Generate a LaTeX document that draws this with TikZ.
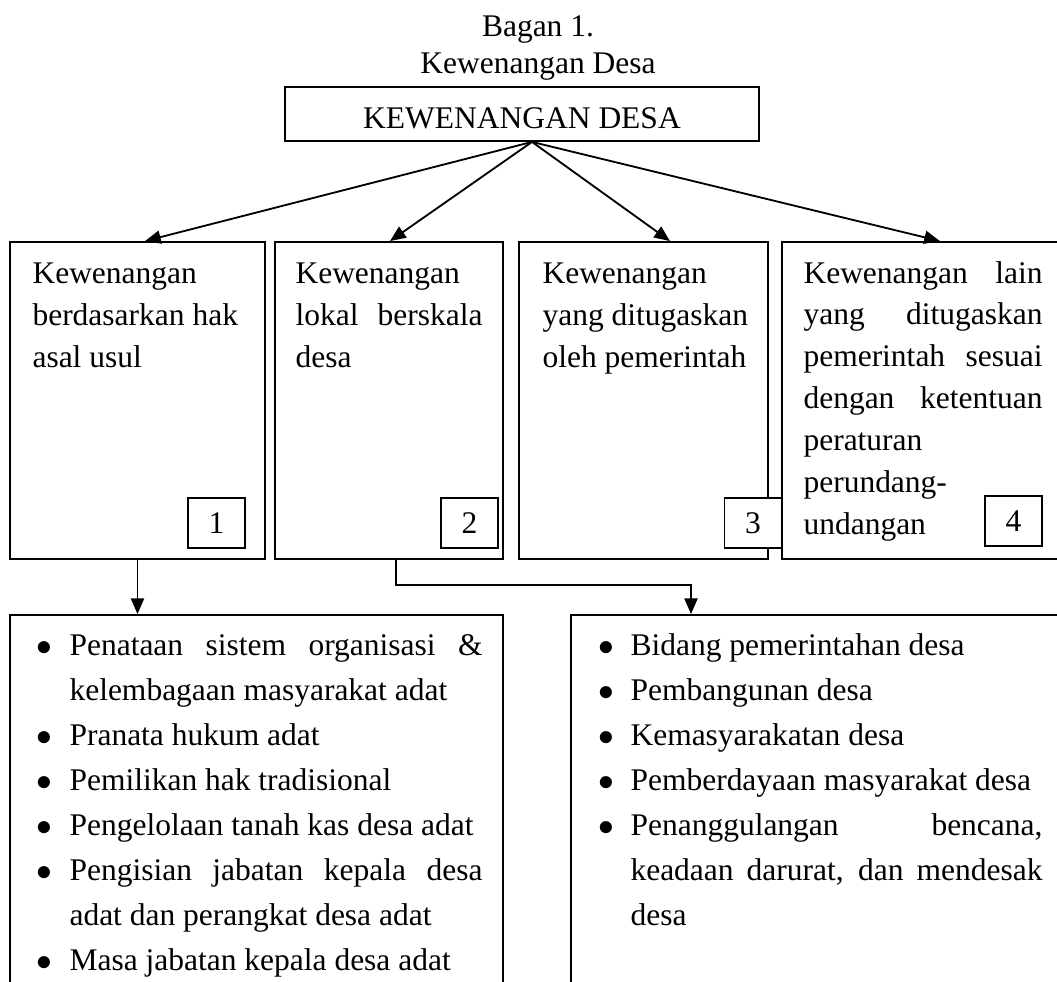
\documentclass[tikz,border=0pt]{standalone}
\usepackage{fontspec}
\setmainfont{Liberation Serif}
\usepackage{enumitem}
\usetikzlibrary{arrows.meta,calc}

\newdimen\upx
\upx=0.381pt
\tolerance=10000
\hbadness=10000
\hyphenpenalty=10000

\tikzset{
  kotak/.style={draw,line width=0.7pt,inner sep=0pt},
  isi/.style={inner sep=0pt,anchor=base west,align=justify,font=\fontsize{12}{16}\selectfont},
  daftar/.style={isi,font=\fontsize{12}{17.1}\selectfont},
  nomor/.style={kotak,fill=white,minimum width=57\upx,minimum height=50\upx,font=\fontsize{12}{14}\selectfont},
  panah/.style={line width=0.7pt,-{Triangle[length=6pt,width=5pt]}}
}

\begin{document}
\begin{tikzpicture}[x=1\upx,y=-1\upx]
\useasboundingbox (0,0) rectangle (1057,982);
\clip (0,0) rectangle (1057,982);

% Judul
\node[anchor=north,inner sep=0pt,align=center,font=\fontsize{12}{14.1}\selectfont] (judul) at (538,14.7) {Bagan 1.\\Kewenangan Desa};

% Kotak utama
\node[kotak,minimum width=474\upx,minimum height=54\upx,text height=28.4\upx,text depth=0pt,font=\fontsize{12}{14}\selectfont] (kd) at (522,114) {KEWENANGAN DESA};

% Empat kewenangan
\node[kotak,minimum width=255\upx,minimum height=317\upx] (k1) at (137.5,400.5) {};
\node[kotak,minimum width=228\upx,minimum height=317\upx] (k2) at (389,400.5) {};
\node[kotak,minimum width=249\upx,minimum height=317\upx] (k3) at (643.5,400.5) {};
\node[kotak,minimum width=293\upx,minimum height=317\upx] (k4) at (928.5,400.5) {};

\node[isi,text width=215\upx] (t1) at (32,284) {Kewenangan\\ berdasarkan hak\\ asal usul};
\node[isi,text width=187\upx] (t2) at (295,284) {Kewenangan\\ lokal berskala\linebreak desa};
\node[isi,text width=215\upx] (t3) at (542,284) {Kewenangan\\ yang ditugaskan\\ oleh pemerintah};
\node[isi,text width=239\upx] (t4) at (803,283) {Kewenangan lain\linebreak yang ditugaskan\linebreak pemerintah sesuai\linebreak dengan ketentuan\linebreak peraturan\\ perundang-\\ undangan};

% Nomor
\node[nomor] (n1) at (216.5,523) {1};
\node[nomor] (n2) at (469.5,523) {2};
\node[nomor] (n3) at (753,523) {3};
\node[nomor] (n4) at (1013.5,521) {4};

% Panah dari kotak utama
\draw[panah] ($(kd.south)+(10,0)$) -- ($(k1.north)+(7.5,0)$);
\draw[panah] ($(kd.south)+(10,0)$) -- ($(k2.north)+(1,0)$);
\draw[panah] ($(kd.south)+(10,0)$) -- ($(k3.north)+(26.5,0)$);
\draw[panah] ($(kd.south)+(10,0)$) -- ($(k4.north)+(11.5,0)$);

% Rincian
\node[kotak,minimum width=493\upx,minimum height=385\upx] (bl) at (256.5,807.5) {};
\node[kotak,minimum width=504\upx,minimum height=385\upx] (br) at (823,807.5) {};

\draw[panah] (k1.south) -- (k1.south |- bl.north);
\draw[panah] ($(k2.south)+(7,0)$) -- ++(0,25) -| ($(br.north)+(-132,0)$);

\node[daftar,text width=446\upx] (l1) at (36,611) {%
\begin{itemize}[leftmargin=33\upx,labelwidth=33\upx,labelsep=0pt,align=left,itemsep=0pt,parsep=0pt,topsep=0pt,partopsep=0pt,label=$\bullet$]
\item Penataan sistem organisasi \&\linebreak kelembagaan masyarakat adat
\item Pranata hukum adat
\item Pemilikan hak tradisional
\item Pengelolaan tanah kas desa adat
\item Pengisian jabatan kepala desa\linebreak adat dan perangkat desa adat
\item Masa jabatan kepala desa adat
\end{itemize}};

\node[daftar,text width=444\upx] (l2) at (598,611) {%
\begin{itemize}[leftmargin=32\upx,labelwidth=32\upx,labelsep=0pt,align=left,itemsep=0pt,parsep=0pt,topsep=0pt,partopsep=0pt,label=$\bullet$]
\item Bidang pemerintahan desa
\item Pembangunan desa
\item Kemasyarakatan desa
\item Pemberdayaan masyarakat desa
\item Penanggulangan bencana,\linebreak keadaan darurat, dan mendesak\linebreak desa
\end{itemize}};

\end{tikzpicture}
\end{document}
